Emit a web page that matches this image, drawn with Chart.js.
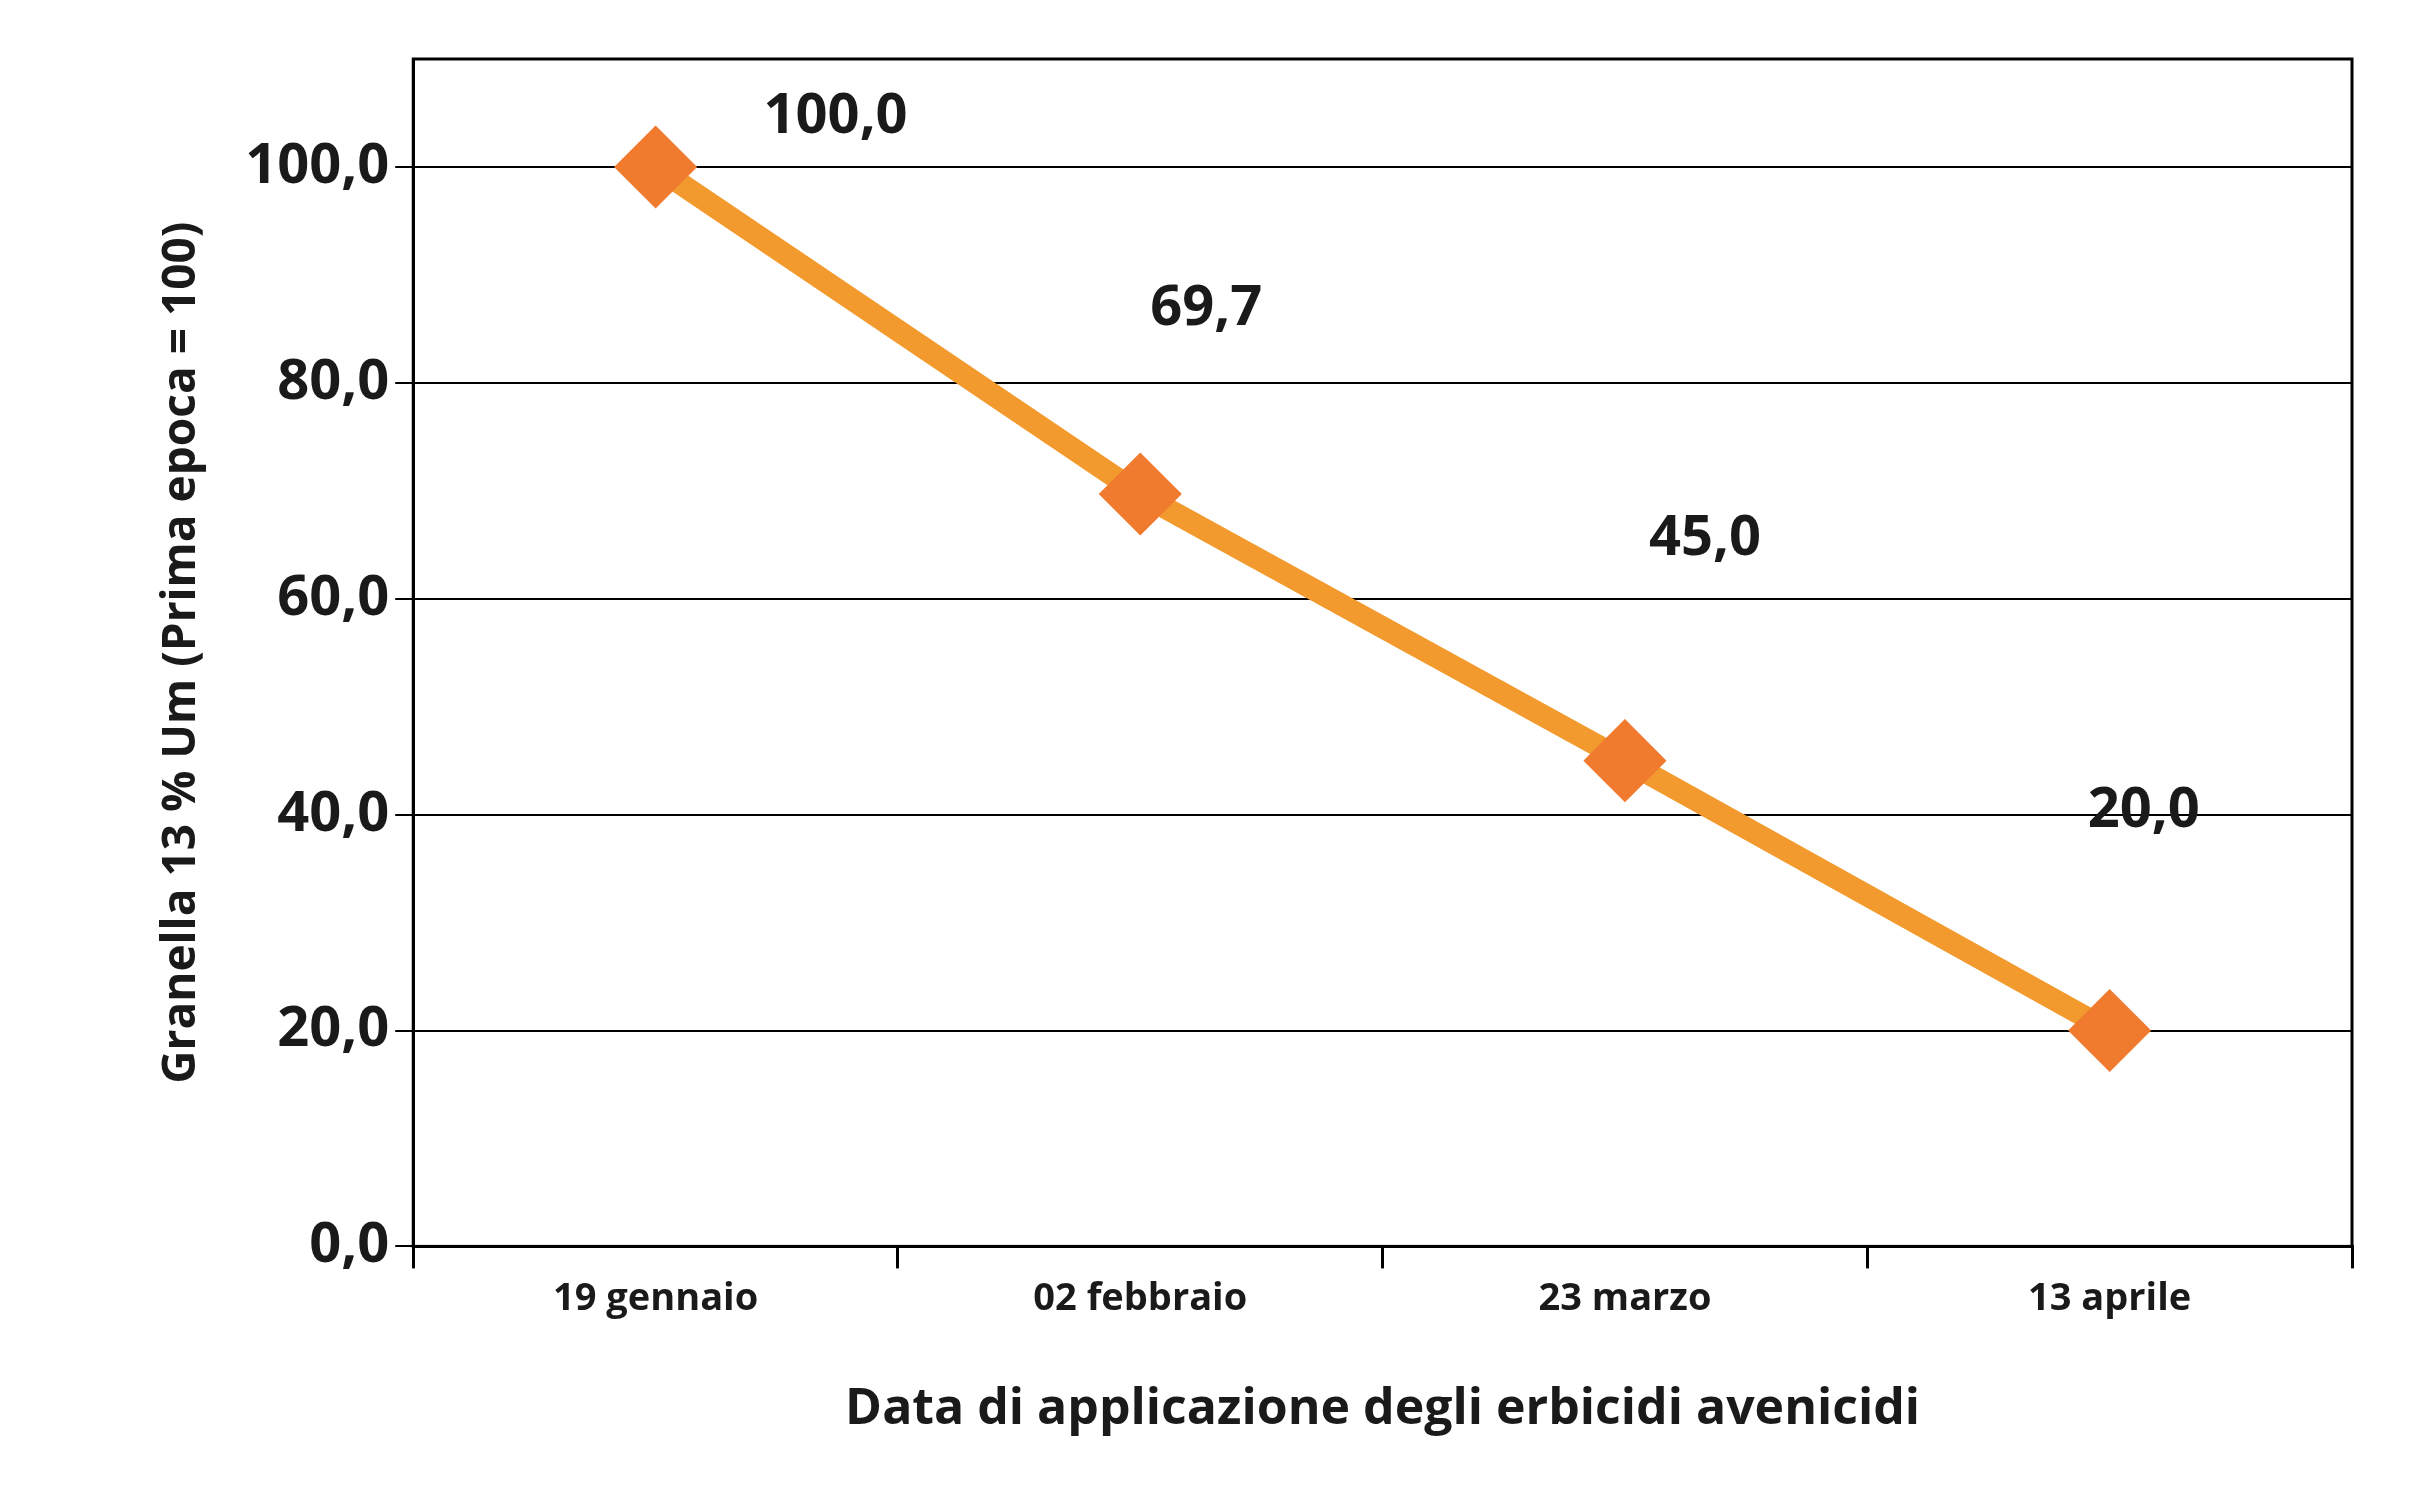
<!DOCTYPE html>
<html>
<head>
<meta charset="utf-8">
<style>
  html, body { margin: 0; padding: 0; background: #fff; }
</style>
<script src="https://cdn.jsdelivr.net/npm/chart.js@4.4.1/dist/chart.umd.min.js"></script>
</head>
<body>
<canvas id="chart" width="2412" height="1506"></canvas>
<script>
const dates = ['19 gennaio', '02 febbraio', '23 marzo', '13 aprile'];
const yieldIndex = [100.0, 69.7, 45.0, 20.0];
const yTicks = [0, 20, 40, 60, 80, 100];

// where each value label sits relative to its point (px)
const labelOffsets = [[180, -50], [66, -185], [80, -222], [34, -219]];

const fmt = v => v.toFixed(1).replace('.', ',');

const valueLabels = {
    id: 'valueLabels',
    afterDatasetsDraw(chart) {
        const ctx = chart.ctx;
        const meta = chart.getDatasetMeta(0);
        ctx.save();
        ctx.font = 'bold 56px "Open Sans"';
        ctx.fillStyle = '#1a1a1a';
        ctx.textAlign = 'center';
        ctx.textBaseline = 'middle';
        meta.data.forEach((pt, i) => {
            ctx.fillText(fmt(yieldIndex[i]), pt.x + labelOffsets[i][0], pt.y + labelOffsets[i][1]);
        });
        ctx.restore();
    }
};

new Chart(document.getElementById('chart'), {
    type: 'line',
    data: {
        labels: dates,
        datasets: [{
            data: yieldIndex,
            borderColor: '#F39A2E',
            borderWidth: 22,
            pointStyle: 'rectRot',
            pointRadius: 26,
            pointBackgroundColor: '#F07A2E',
            pointBorderColor: '#F07A2E',
            tension: 0
        }]
    },
    options: {
        responsive: false,
        devicePixelRatio: 1,
        animation: false,
        layout: { padding: { top: 59, right: 60, left: 150, bottom: 62 } },
        plugins: { legend: { display: false }, tooltip: { enabled: false } },
        scales: {
            x: {
                offset: true,
                grid: { offset: true, drawOnChartArea: false, color: '#000', lineWidth: 3, tickLength: 22 },
                border: { color: '#000', width: 3 },
                ticks: { color: '#1a1a1a', font: { family: 'Open Sans', weight: 'bold', size: 38 }, padding: 8 },
                title: {
                    display: true,
                    text: 'Data di applicazione degli erbicidi avenicidi',
                    color: '#1a1a1a',
                    font: { family: 'Open Sans', weight: 'bold', size: 50 },
                    padding: { top: 50 }
                }
            },
            y: {
                min: 0,
                max: 110,
                afterBuildTicks(axis) {
                    axis.ticks = yTicks.concat([110]).map(v => ({ value: v }));
                },
                grid: {
                    color: ctx => ctx.tick && ctx.tick.value === 110 ? 'rgba(0,0,0,0)' : '#000',
                    lineWidth: 2,
                    tickLength: 18
                },
                border: { color: '#000', width: 3 },
                ticks: {
                    color: '#1a1a1a',
                    font: { family: 'Open Sans', weight: 'bold', size: 56 },
                    padding: 6,
                    callback: v => v === 110 ? '' : fmt(v)
                },
                title: {
                    display: true,
                    text: 'Granella 13 % Um (Prima epoca = 100)',
                    color: '#1a1a1a',
                    font: { family: 'Open Sans', weight: 'bold', size: 46 },
                    padding: { bottom: 30 }
                }
            }
        }
    },
    plugins: [valueLabels, {
        id: 'frame',
        afterDraw(chart) {
            const { ctx, chartArea: a } = chart;
            ctx.save();
            ctx.strokeStyle = '#000';
            ctx.lineWidth = 3;
            ctx.strokeRect(a.left, a.top, a.right - a.left, a.bottom - a.top);
            ctx.restore();
        }
    }]
});
</script>
</body>
</html>
